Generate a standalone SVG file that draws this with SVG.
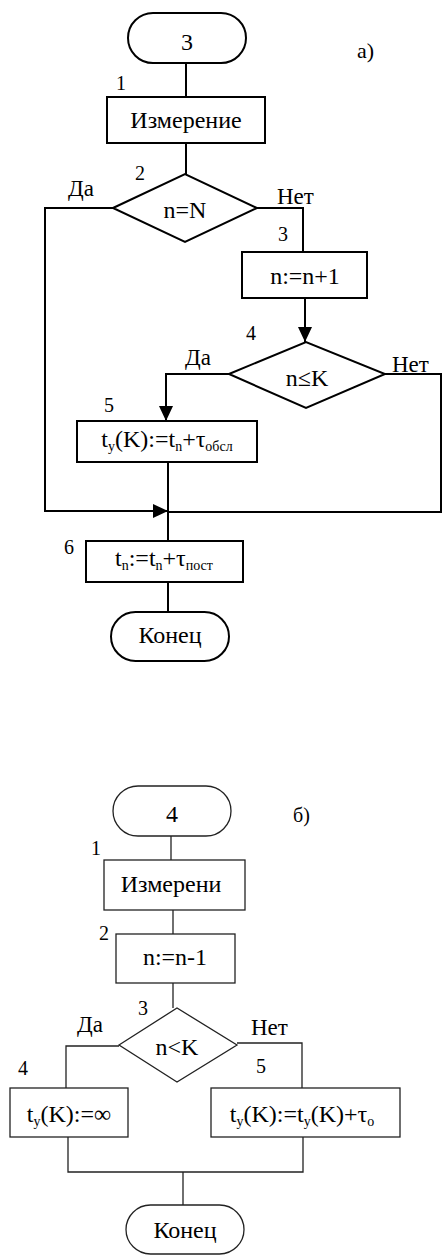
<svg xmlns="http://www.w3.org/2000/svg" width="445" height="1259" viewBox="0 0 445 1259" font-family="'Liberation Serif', 'DejaVu Serif', serif">
  <style>
    text { font-family: 'Liberation Serif', 'DejaVu Serif', serif; fill: #000; }
    .t { font-size: 24px; text-anchor: middle; }
    .lab { font-size: 20px; }
    .yn { font-size: 23px; }
    .sub { font-size: 14px; }
    .a { fill: #fff; stroke: #000; stroke-width: 2; }
    .b { fill: #fff; stroke: #222; stroke-width: 1.3; }
    .ca { fill: none; stroke: #000; stroke-width: 2; }
    .cb { fill: none; stroke: #222; stroke-width: 1.3; }
  </style>
  <defs>
    <marker id="arrow" markerUnits="userSpaceOnUse" markerWidth="16" markerHeight="16" refX="15" refY="7" orient="auto">
      <path d="M0,0 L15,7 L0,14 Z" fill="#000"/>
    </marker>
  </defs>

  <rect width="445" height="1259" fill="#fff"/>

  <!-- connectors -->
  <g id="connectors">
    <!-- part a -->
    <path class="ca" d="M186,63 V97"/>
    <path class="ca" d="M186,143 V174"/>
    <path class="ca" d="M113,208 H45 V511 H168" marker-end="url(#arrow)"/>
    <path class="ca" d="M257,208 H303 V252"/>
    <path class="ca" d="M305,298 V342" marker-end="url(#arrow)"/>
    <path class="ca" d="M229,374 H166 V421" marker-end="url(#arrow)"/>
    <path class="ca" d="M385,374 H441 V512 H168"/>
    <path class="ca" d="M168,462 V541"/>
    <path class="ca" d="M168,582 V612"/>
    <!-- part b -->
    <path class="cb" d="M171,836 V860"/>
    <path class="cb" d="M173,910 V934"/>
    <path class="cb" d="M173,983 V1008"/>
    <path class="cb" d="M119,1046 H66 V1088"/>
    <path class="cb" d="M237,1043 H302 V1088"/>
    <path class="cb" d="M68,1137 V1172 H303 V1137"/>
    <path class="cb" d="M183,1172 V1205"/>
  </g>

  <!-- part a -->
  <text x="357" y="58" font-size="22">а)</text>

  <g id="a-start">
    <rect class="a" x="128" y="13" width="118" height="50" rx="25"/>
    <text class="t" x="187" y="50">3</text>
  </g>
  <g id="a-measure">
    <text class="lab" x="116" y="90">1</text>
    <rect class="a" x="107" y="97" width="158" height="46"/>
    <text class="t" x="186" y="128">Измерение</text>
  </g>
  <g id="a-check-n">
    <text class="lab" x="135" y="180">2</text>
    <polygon class="a" points="113,208 185,174 257,208 185,242"/>
    <text class="t" x="185" y="218">n=N</text>
    <text class="yn" x="68" y="196">Да</text>
    <text class="yn" x="277" y="204">Нет</text>
  </g>
  <g id="a-increment">
    <text class="lab" x="278" y="241">3</text>
    <rect class="a" x="242" y="252" width="125" height="46"/>
    <text class="t" x="305" y="284">n:=n+1</text>
  </g>
  <g id="a-check-k">
    <text class="lab" x="246" y="340">4</text>
    <polygon class="a" points="229,374 306,342 385,374 306,408"/>
    <text class="t" x="307" y="386">n≤K</text>
    <text class="yn" x="185" y="365">Да</text>
    <text class="yn" x="392" y="372">Нет</text>
  </g>
  <g id="a-service">
    <text class="lab" x="104" y="412">5</text>
    <rect class="a" x="77" y="421" width="180" height="41"/>
    <text class="t" x="167" y="447">t<tspan class="sub" dy="4">у</tspan><tspan dy="-4">(K):=t</tspan><tspan class="sub" dy="4">n</tspan><tspan dy="-4">+τ</tspan><tspan class="sub" dy="4">обсл</tspan></text>
  </g>
  <g id="a-next">
    <text class="lab" x="64" y="554">6</text>
    <rect class="a" x="86" y="541" width="157" height="41"/>
    <text class="t" x="164" y="566">t<tspan class="sub" dy="4">n</tspan><tspan dy="-4">:=t</tspan><tspan class="sub" dy="4">n</tspan><tspan dy="-4">+τ</tspan><tspan class="sub" dy="4">пост</tspan></text>
  </g>
  <g id="a-end">
    <rect class="a" x="111" y="612" width="118" height="49" rx="24.5"/>
    <text class="t" x="170" y="643">Конец</text>
  </g>

  <!-- part b -->
  <text x="293" y="822" font-size="20">б)</text>

  <g id="b-start">
    <rect class="b" x="113" y="786" width="118" height="50" rx="25"/>
    <text class="t" x="172" y="822" font-size="21">4</text>
  </g>
  <g id="b-measure">
    <text class="lab" x="91" y="855">1</text>
    <rect class="b" x="104" y="860" width="141" height="50"/>
    <text class="t" x="171" y="892">Измерени</text>
  </g>
  <g id="b-decrement">
    <text class="lab" x="99" y="940">2</text>
    <rect class="b" x="116" y="934" width="119" height="49"/>
    <text class="t" x="175" y="965">n:=n-1</text>
  </g>
  <g id="b-check-k">
    <text class="lab" x="138" y="1015">3</text>
    <polygon class="b" points="119,1045 177,1008 237,1045 177,1082"/>
    <text class="t" x="177" y="1055">n&lt;K</text>
    <text class="yn" x="77" y="1032">Да</text>
    <text class="yn" x="251" y="1035">Нет</text>
  </g>
  <g id="b-infinite">
    <text class="lab" x="18" y="1075">4</text>
    <rect class="b" x="10" y="1088" width="118" height="49"/>
    <text class="t" x="69" y="1122">t<tspan class="sub" dy="4">у</tspan><tspan dy="-4">(K):=∞</tspan></text>
  </g>
  <g id="b-add">
    <text class="lab" x="256" y="1073">5</text>
    <rect class="b" x="211" y="1088" width="189" height="49"/>
    <text class="t" x="302" y="1122">t<tspan class="sub" dy="4">у</tspan><tspan dy="-4">(K):=t</tspan><tspan class="sub" dy="4">у</tspan><tspan dy="-4">(K)+τ</tspan><tspan class="sub" dy="4">о</tspan></text>
  </g>
  <g id="b-end">
    <rect class="b" x="126" y="1205" width="118" height="49" rx="24.5"/>
    <text class="t" x="185" y="1238">Конец</text>
  </g>
</svg>
